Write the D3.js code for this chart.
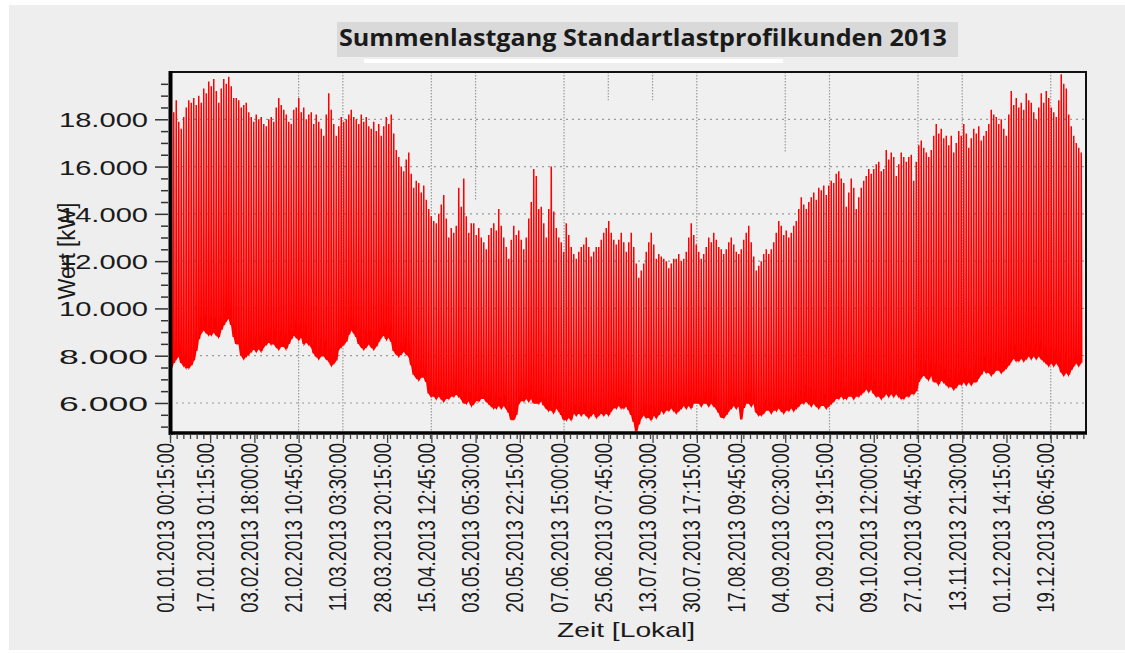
<!DOCTYPE html>
<html>
<head>
<meta charset="utf-8">
<script src="https://cdn.jsdelivr.net/npm/d3@7/dist/d3.min.js"></script>
<style>
  body { margin: 0; background: #fff; }
  svg { display: block; }
  .lbl { font-family: "Liberation Sans", Arial, sans-serif; fill: #1a1a1a; }
</style>
</head>
<body>
<div id="chart"></div>
<script>
var svgWidth = 1125;
var svgHeight = 653;

// Data: one daily peak and one night low per day of 2013 (kW)
var title = "Summenlastgang Standartlastprofilkunden 2013";
var yTitle = "Wert [kW]";
var xTitle = "Zeit [Lokal]";
var yTicks = [6000, 8000, 10000, 12000, 14000, 16000, 18000];
var xTickLabels = [
  "01.01.2013 00:15:00", "17.01.2013 01:15:00", "03.02.2013 18:00:00", "21.02.2013 10:45:00",
  "11.03.2013 03:30:00", "28.03.2013 20:15:00", "15.04.2013 12:45:00", "03.05.2013 05:30:00",
  "20.05.2013 22:15:00", "07.06.2013 15:00:00", "25.06.2013 07:45:00", "13.07.2013 00:30:00",
  "30.07.2013 17:15:00", "17.08.2013 09:45:00", "04.09.2013 02:30:00", "21.09.2013 19:15:00",
  "09.10.2013 12:00:00", "27.10.2013 04:45:00", "13.11.2013 21:30:00", "01.12.2013 14:15:00",
  "19.12.2013 06:45:00"
];
var dailyMax = [
  16800, 18300, 18800, 17900, 17600, 18100, 18500, 18800, 18700, 18900,
  18600, 19000, 18700, 19300, 19100, 19600, 19400, 19700, 19200, 18700,
  19300, 19700, 19500, 19800, 19400, 18900, 18900, 18800, 18500, 18600,
  18700, 18300, 18100, 17900, 18200, 18000, 18100, 17800, 17700, 18000,
  18100, 17900, 18500, 18900, 18600, 18400, 18200, 17900, 17800, 18400,
  18500, 18900, 18300, 18500, 18000, 18200, 18300, 17800, 18200, 17900,
  17600, 17300, 18200, 19100, 18400, 17800, 17300, 17700, 18100, 17900,
  18000, 18200, 18400, 18100, 18000, 17800, 18200, 17900, 18100, 17700,
  17600, 17900, 17500, 17800, 17300, 17700, 18100, 17800, 18200, 17400,
  16700, 16400, 16000, 15800, 16300, 16600, 15700, 15100, 15400, 15300,
  14900, 15200, 14600, 14200, 13900, 13700, 13600, 14000, 14400, 14800,
  13800, 13000, 13400, 13200, 13500, 15100, 14300, 15500, 13900, 13200,
  13600, 13600, 13100, 13400, 13000, 12800, 12500, 13100, 13400, 13600,
  13300, 14200, 13500, 13000, 12600, 12100, 12900, 13500, 13100, 13300,
  12900, 12500, 13000, 13800, 14500, 15900, 15600, 14200, 14300, 13600,
  13000, 14200, 16000, 14100, 13400, 13000, 12800, 12400, 13600, 13100,
  12600, 12300, 12100, 12400, 12600, 12700, 13000, 12600, 12200, 12400,
  12600, 12600, 12900, 13200, 13400, 13700, 13200, 12900, 12700, 12900,
  13200, 12800, 12400, 12800, 13200, 12600, 11900, 11300, 11600, 11900,
  12400, 12800, 13200, 12700, 12100, 12300, 12200, 12100, 12000, 11700,
  11900, 12100, 12100, 12300, 12000, 12100, 12400, 13000, 13600, 13100,
  12700, 12400, 12100, 12300, 12600, 13000, 12800, 13200, 12900, 12600,
  12500, 12300, 12500, 12800, 13000, 12700, 12400, 12300, 12500, 12900,
  13200, 13500, 12800, 12200, 11600, 11800, 12000, 12300, 12500, 12300,
  12500, 12800, 13200, 13700, 13500, 13100, 13300, 13000, 13200, 13500,
  13700, 14200, 14700, 14400, 14200, 14500, 14700, 14900, 14600, 15100,
  15000, 15200, 14800, 15200, 15400, 15300, 15700, 15800, 15500, 15300,
  14300, 14900, 15500, 15100, 14200, 14700, 15100, 15400, 15600, 15900,
  15700, 15900, 16100, 16200, 15800, 15900, 16700, 16300, 16600, 16400,
  15600, 16100, 16600, 16400, 16200, 16400, 16500, 15400, 16200, 16900,
  17100, 16800, 16600, 16400, 16700, 17300, 17800, 17400, 17600, 17200,
  17300, 16900, 17300, 16600, 17000, 17500, 17300, 17800, 17400, 16800,
  17200, 17600, 17400, 17700, 17100, 17300, 17500, 17800, 18400, 18200,
  18100, 17800, 18000, 17600, 17300, 18200, 19200, 18600, 18900, 18500,
  18700, 18400, 19100, 18800, 18700, 18300, 18000, 18500, 19100, 18700,
  19200, 18900, 18500, 18300, 18100, 18800, 19900, 19500, 19300, 18200,
  17700, 17300, 17000, 16800, 16600
];
var dailyMin = [
  7500, 7700, 7900, 8000, 7700, 7600, 7500, 7500, 7600, 7800,
  8200, 8700, 9000, 9100, 9000, 8900, 8900, 9000, 8900, 8800,
  9100, 9300, 9500, 9600, 9300, 8800, 8500, 8500, 8000, 7900,
  8000, 8100, 8200, 8300, 8200, 8300, 8200, 8400, 8500, 8600,
  8500, 8500, 8400, 8300, 8400, 8400, 8300, 8500, 8700, 8900,
  8800, 8700, 8800, 8500, 8600, 8500, 8400, 8100, 8000, 7900,
  8000, 8000, 7900, 7800, 7600, 7700, 7800, 8300, 8400, 8500,
  8600, 8900, 9100, 9000, 8800, 8500, 8400, 8300, 8400, 8500,
  8400, 8300, 8400, 8600, 8800, 8900, 8700, 8800, 8600, 8200,
  8100, 8000, 8100, 8200, 8100, 8000, 7600, 7200, 7100, 7000,
  7100, 7100, 6900, 6400, 6300, 6300, 6200, 6300, 6200, 6100,
  6200, 6200, 6300, 6300, 6400, 6300, 6200, 6000, 6000, 6100,
  5900, 6000, 6100, 6100, 6200, 6200, 6100, 6000, 5900, 5800,
  5800, 5900, 5800, 5900, 5800, 5600, 5300, 5300, 5500, 6000,
  6100, 6100, 6200, 6100, 6200, 6000, 6000, 6000, 6100, 5900,
  5800, 5700, 5700, 5600, 5800, 5700, 5500, 5300, 5300, 5400,
  5300, 5600, 5500, 5600, 5500, 5600, 5500, 5400, 5500, 5600,
  5400, 5500, 5600, 5500, 5600, 5500, 5700, 5800, 5800, 5900,
  5800, 5800, 5900, 5700, 5500, 5200, 4800, 5100, 5400, 5500,
  5400, 5400, 5300, 5500, 5400, 5500, 5700, 5600, 5700, 5700,
  5800, 5700, 5600, 5700, 5800, 5900, 5800, 5900, 5800, 6000,
  6000, 6000, 5900, 6000, 6000, 5900, 6000, 5900, 5800, 5600,
  5400, 5400, 5500, 5700, 5800, 5900, 5800, 5900, 5300, 5800,
  6000, 6000, 5900, 6000, 5600, 5500, 5500, 5600, 5700, 5700,
  5600, 5700, 5700, 5800, 5700, 5600, 5700, 5700, 5800, 5700,
  5800, 5900, 6000, 6000, 6100, 6000, 5900, 6000, 5900, 5800,
  5900, 5900, 5800, 5900, 6000, 6100, 6200, 6200, 6300, 6200,
  6200, 6300, 6300, 6200, 6300, 6300, 6400, 6500, 6600, 6500,
  6600, 6400, 6300, 6300, 6200, 6300, 6400, 6300, 6400, 6300,
  6400, 6300, 6200, 6200, 6300, 6300, 6400, 6400, 6500, 6900,
  7100, 7200, 7100, 7000, 7200, 6900, 6900, 6800, 7000, 6900,
  6800, 6700, 6700, 6600, 6700, 6800, 6800, 6900, 6800, 6900,
  6800, 6900, 6900, 7100, 7200, 7400, 7300, 7300, 7200, 7300,
  7400, 7400, 7300, 7400, 7500, 7600, 7800, 7900, 7800, 7800,
  7900, 7800, 7900, 8000, 7900, 8000, 7900, 8000, 7900, 7800,
  7700, 7600, 7700, 7600, 7700, 7600, 7300, 7200, 7300, 7200,
  7400, 7600, 7700, 7600, 7700
];
// vertical grid lines that show in the original: [tick index, lowest value they reach]
var vGrid = [[3, 4730], [4, 4730], [6, 4730], [7, 14600], [9, 4730], [10, 18800], [11, 18800],
  [12, 4730], [14, 16600], [15, 4730], [17, 4730], [18, 4730], [20, 4730]];

var DAY = 864e5;
var t0 = Date.UTC(2013, 0, 1);
var plot = { left: 170, right: 1086, top: 72, bottom: 433 };

var svg = d3.select("#chart").append("svg")
  .attr("width", svgWidth)
  .attr("height", svgHeight);

// panel + title
svg.append("rect").attr("x", 9).attr("y", 5).attr("width", svgWidth - 9).attr("height", 645).attr("fill", "#eeeeee");
svg.append("rect").attr("x", 337).attr("y", 22).attr("width", 621).attr("height", 35).attr("fill", "#d9d9d9");
svg.append("rect").attr("x", 364).attr("y", 59).attr("width", 419).attr("height", 4).attr("fill", "#ffffff");
svg.append("text")
  .attr("x", 339).attr("y", 46)
  .attr("textLength", 608).attr("lengthAdjust", "spacingAndGlyphs")
  .style("font-family", "'Open Sans', 'Noto Sans', sans-serif")
  .style("font-weight", "bold").style("font-size", "23px").style("fill", "#1a1a1a")
  .text(title);

// scales
var x = d3.scaleUtc()
  .domain([t0, t0 + 366.4 * DAY])
  .range([plot.left, plot.right]);
var y = d3.scaleLinear()
  .domain([4730, 20000])
  .range([plot.bottom, plot.top]);

var parseTick = d3.utcParse("%d.%m.%Y %H:%M:%S");
var tickDates = xTickLabels.map(parseTick);
var de = d3.formatLocale({ decimal: ",", thousands: ".", grouping: [3], currency: ["", " €"] });
var fmt = de.format(",");

svg.append("rect")
  .attr("x", plot.left).attr("y", plot.top)
  .attr("width", plot.right - plot.left).attr("height", plot.bottom - plot.top)
  .attr("fill", "#f0f0f0");

// grid
svg.append("g").selectAll("line")
  .data(yTicks)
  .join("line")
  .attr("x1", plot.left).attr("x2", plot.right)
  .attr("y1", d => y(d)).attr("y2", d => y(d))
  .attr("stroke", "#9a9a9a").attr("stroke-width", 1.2).attr("stroke-dasharray", "2,4");
svg.append("g").selectAll("line")
  .data(vGrid)
  .join("line")
  .attr("x1", d => x(tickDates[d[0]])).attr("x2", d => x(tickDates[d[0]]))
  .attr("y1", plot.top).attr("y2", d => y(d[1]))
  .attr("stroke", "#9a9a9a").attr("stroke-width", 1.2).attr("stroke-dasharray", "1.5,1.5");

// load curve: each day drops to its night low, climbs to its peak and falls back
var pts = [];
dailyMax.forEach(function(mx, i) {
  var base = t0 + i * DAY;
  pts.push([base + 0.3 * DAY, dailyMin[i]]);
  pts.push([base + 0.5 * DAY, mx]);
  pts.push([base + 0.7 * DAY, dailyMin[i]]);
});
var line = d3.line().x(d => x(d[0])).y(d => y(d[1]));
svg.append("path")
  .datum(pts)
  .attr("d", line)
  .attr("fill", "none")
  .attr("stroke", "#ff0000")
  .attr("stroke-width", 1.5)
  .attr("stroke-linejoin", "miter");

// frame
svg.append("line").attr("x1", plot.left).attr("x2", plot.right + 1).attr("y1", plot.top).attr("y2", plot.top)
  .attr("stroke", "#111").attr("stroke-width", 2);
svg.append("line").attr("x1", plot.right).attr("x2", plot.right).attr("y1", plot.top).attr("y2", plot.bottom)
  .attr("stroke", "#111").attr("stroke-width", 2);
svg.append("line").attr("x1", plot.left + 0.5).attr("x2", plot.left + 0.5).attr("y1", plot.top - 1).attr("y2", plot.bottom + 2)
  .attr("stroke", "#000").attr("stroke-width", 4);
svg.append("line").attr("x1", plot.left - 1).attr("x2", plot.right + 1).attr("y1", plot.bottom).attr("y2", plot.bottom)
  .attr("stroke", "#000").attr("stroke-width", 3.5);

// y axis: major + minor ticks
var minorY = d3.range(5000, 20000, 500).filter(v => v % 2000 !== 0);
svg.append("g")
  .attr("transform", `translate(${plot.left - 2}, 0)`)
  .call(d3.axisLeft(y).tickValues(minorY).tickSize(7).tickFormat(""))
  .call(g => g.select(".domain").remove())
  .selectAll("line").attr("stroke", "#333").attr("stroke-width", 1.5);
var yAxis = svg.append("g")
  .attr("transform", `translate(${plot.left - 2}, 0)`)
  .call(d3.axisLeft(y).tickValues(yTicks).tickSize(13).tickPadding(7).tickFormat(fmt))
  .call(g => g.select(".domain").remove());
yAxis.selectAll("line").attr("stroke", "#333").attr("stroke-width", 1.5);
yAxis.selectAll("text")
  .attr("class", "lbl")
  .attr("dy", "0.36em")
  .attr("textLength", 89).attr("lengthAdjust", "spacingAndGlyphs")
  .style("font-size", "21px");

// x axis: minor + major ticks
var minorX = d3.range(t0, t0 + 366.4 * DAY, 64 * 36e5).map(t => new Date(t));
svg.append("g")
  .attr("transform", `translate(0, ${plot.bottom + 1})`)
  .call(d3.axisBottom(x).tickValues(minorX).tickSize(5).tickFormat(""))
  .call(g => g.select(".domain").remove())
  .selectAll("line").attr("stroke", "#444").attr("stroke-width", 1.3);
svg.append("g")
  .attr("transform", `translate(0, ${plot.bottom + 1})`)
  .call(d3.axisBottom(x).tickValues(tickDates).tickSize(9).tickFormat(""))
  .call(g => g.select(".domain").remove())
  .selectAll("line").attr("stroke", "#444").attr("stroke-width", 1.3);

svg.append("g").selectAll("text")
  .data(xTickLabels)
  .join("text")
  .attr("class", "lbl")
  .attr("transform", (d, i) => `translate(${x(tickDates[i]) + 3.5}, 443) rotate(-90) scale(1, 1.25)`)
  .attr("text-anchor", "end")
  .style("font-size", "18.5px")
  .text(d => d);

// axis titles
svg.append("text")
  .attr("class", "lbl")
  .attr("transform", "translate(75, 251) rotate(-90) scale(1, 1.12)")
  .attr("text-anchor", "middle")
  .attr("textLength", 97).attr("lengthAdjust", "spacingAndGlyphs")
  .style("font-size", "21px")
  .text(yTitle);
svg.append("text")
  .attr("class", "lbl")
  .attr("x", 557).attr("y", 637)
  .attr("textLength", 138).attr("lengthAdjust", "spacingAndGlyphs")
  .style("font-size", "21px")
  .text(xTitle);
</script>
</body>
</html>
